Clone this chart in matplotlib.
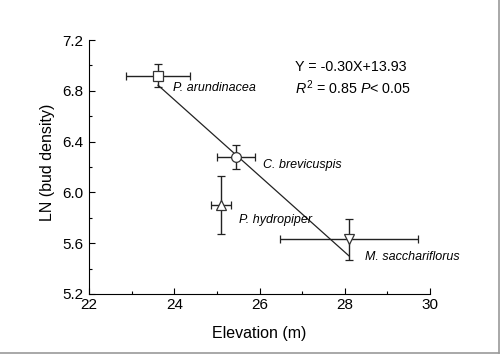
import matplotlib
matplotlib.use("Agg")
import matplotlib.pyplot as plt
from matplotlib.lines import Line2D

plt.rcParams['font.family'] = ['Liberation Sans', 'DejaVu Sans']
plt.rcParams['mathtext.fontset'] = 'custom'
plt.rcParams['mathtext.rm'] = 'Liberation Sans'
plt.rcParams['mathtext.it'] = 'Liberation Sans:italic'

species = ["P. arundinacea", "C. brevicuspis", "P. hydropiper", "M. sacchariflorus"]
elev = [23.62, 25.45, 25.10, 28.10]
elev_err = [0.76, 0.45, 0.23, 1.62]
lnbud = [6.92, 6.28, 5.90, 5.63]
lnbud_err = [0.094, 0.095, 0.23, 0.16]
markers = ["s", "o", "^", "v"]
slope, intercept = -0.30, 13.93
label_offsets = [(0.35, -0.10), (0.63, -0.065), (0.42, -0.12), (0.38, -0.14)]

fig = plt.figure(figsize=(5, 3.54), dpi=100)
ax = fig.add_axes([0.178, 0.1695, 0.682, 0.7175])

for x, xe, y, ye, m in zip(elev, elev_err, lnbud, lnbud_err, markers):
    ax.errorbar(x, y, xerr=xe, yerr=ye, fmt=m, mfc='white', mec='#333333',
                ms=7, mew=0.9, ecolor='#222222', elinewidth=1.0, capsize=3,
                capthick=1.0, zorder=3)

xs = [min(elev), max(elev)]
ax.plot(xs, [slope * v + intercept for v in xs], color='#222222', lw=0.9, zorder=2)

for name, x, y, (dx, dy) in zip(species, elev, lnbud, label_offsets):
    ax.text(x + dx, y + dy, name, fontstyle='italic', fontsize=9, va='center', ha='left')

ax.text(0.604, 0.894, "Y = -0.30X+13.93", transform=ax.transAxes, fontsize=10.3, va='center')
ax.text(0.604, 0.811, r"$R^2$ = 0.85 $P$< 0.05", transform=ax.transAxes, fontsize=10.3, va='center')

ax.set_xlim(22, 30)
ax.set_ylim(5.2, 7.2)
ax.set_xticks([22, 24, 26, 28, 30])
ax.set_xticks([23, 25, 27, 29], minor=True)
ax.set_yticks([5.2, 5.6, 6.0, 6.4, 6.8, 7.2])
ax.set_yticks([5.4, 5.8, 6.2, 6.6, 7.0], minor=True)
ax.set_yticklabels(["5.2", "5.6", "6.0", "6.4", "6.8", "7.2"])
ax.tick_params(direction='in', length=4, width=0.8, labelsize=11, pad=4)
ax.tick_params(axis='x', pad=3)
ax.tick_params(which='minor', direction='in', length=2.5, width=0.8)
for s in ['top', 'right']:
    ax.spines[s].set_visible(False)
for s in ['left', 'bottom']:
    ax.spines[s].set_linewidth(0.8)
ax.set_xlabel("Elevation (m)", fontsize=11.5)
ax.set_ylabel("LN (bud density)", fontsize=11.5)
ax.xaxis.set_label_coords(0.5, -0.154)
ax.yaxis.set_label_coords(-0.123, 0.52)
ax.xaxis.label.set_va('center')
ax.yaxis.label.set_va('center')

fig.add_artist(Line2D([0, 0.998], [0.003, 0.003], transform=fig.transFigure, color='#999999', lw=1.2))
fig.add_artist(Line2D([0.997, 0.997], [0.003, 1], transform=fig.transFigure, color='#999999', lw=1.2))

fig.savefig("out.png", dpi=100)
